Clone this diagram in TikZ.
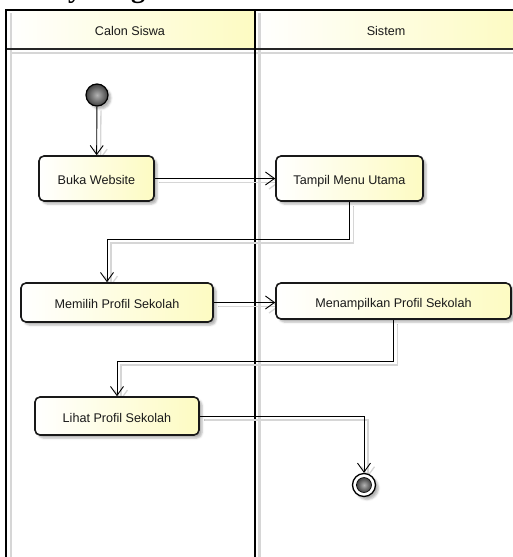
\documentclass[tikz,border=0pt]{standalone}
\usepackage{fontspec}
\setmainfont{Liberation Serif}
\setsansfont{Liberation Sans}
\usetikzlibrary{arrows.meta,shadows.blur,calc}
\definecolor{ylw}{RGB}{253,251,194}
\definecolor{shd}{RGB}{214,214,214}
\definecolor{ink}{RGB}{25,25,25}
\pgfdeclarelayer{lanes}
\pgfdeclarelayer{bg}
\pgfsetlayers{lanes,bg,main}
\newcommand\umlflows[1]{%
  \draw[#1] (init) -- (buka);
  \draw[#1] (buka) -- (tampil);
  \draw[#1] (tampil.south) -- (tampil.south |- k1) -| ([xshift=-10pt]memilih.north);
  \draw[#1] (memilih.east) -- (memilih.east -| menampilkan.west);
  \draw[#1] (menampilkan.south) -- (menampilkan.south |- k2) -| (lihat.north);
  \draw[#1] (lihat.east) -| (final.north);
}
\begin{document}
\begin{tikzpicture}[x=1pt,y=-1pt,
  act/.style={draw=ink, line width=1.6pt, rounded corners=5pt, left color=white, right color=ylw,
    font=\sffamily\fontsize{12.6}{15}\selectfont, text=ink, inner sep=0pt, text height=12pt, text depth=0pt,
    blur shadow={shadow xshift=3pt,shadow yshift=-3pt,shadow blur radius=2pt,shadow opacity=30}},
  lanehead/.style={font=\sffamily\fontsize{12.6}{15}\selectfont, text=ink, inner sep=0pt},
  flow/.style={draw=black, line width=0.9pt, -{Straight Barb[length=9pt,width=13pt,line width=0.9pt]}},
  flowshd/.style={draw=shd, line width=1.3pt, -{Straight Barb[length=9pt,width=13pt,line width=1.3pt]}},
  laneline/.style={draw=black, line width=2pt},
  laneshd/.style={draw=shd, line width=2.5pt}
]
\useasboundingbox (0,0) rectangle (513,557);

% title (cut off at top)
\node[anchor=base west, font=\bfseries\fontsize{28}{30}\selectfont, inner sep=0pt] (title) at (-13,-3) {Activity Diagram};

% nodes
\node[circle, draw=black, line width=1.2pt, inner color=gray!60, outer color=black!75, minimum size=22pt, inner sep=0pt,
  blur shadow={shadow xshift=3pt,shadow yshift=-3pt,shadow blur radius=2pt,shadow opacity=30}] (init) at (97,95) {};
\node[act, minimum width=115pt, minimum height=45pt] (buka) at (96.5,178.5) {Buka Website};
\node[act, minimum width=147pt, minimum height=45pt] (tampil) at (349.5,178.5) {Tampil Menu Utama};
\node[act, minimum width=192pt, minimum height=39pt] (memilih) at (117,302.5) {Memilih Profil Sekolah};
\node[act, minimum width=235pt, minimum height=36pt] (menampilkan) at (393.5,301) {Menampilkan Profil Sekolah};
\node[act, minimum width=164pt, minimum height=38pt] (lihat) at (117,416) {Lihat Profil Sekolah};
\node[circle, draw=black, line width=1.3pt, fill=white, minimum size=23pt, inner sep=0pt,
  blur shadow={shadow xshift=3pt,shadow yshift=-3pt,shadow blur radius=2pt,shadow opacity=30}] (final) at (364,485) {};
\node[circle, draw=black, line width=0.6pt, inner color=gray!60, outer color=black!75, minimum size=15pt, inner sep=0pt] (finalcore) at (final.center) {};

\coordinate (k1) at (349,239);
\coordinate (k2) at (393,361);

% connectors
\umlflows{flow}
\begin{pgfonlayer}{bg}
  \begin{scope}[transform canvas={xshift=4pt,yshift=-4pt}]
    \umlflows{flowshd}
  \end{scope}
\end{pgfonlayer}

% swimlanes
\begin{pgfonlayer}{lanes}
  \shade[left color=white, right color=ylw] (6,10) rectangle (254,48);
  \shade[left color=white, right color=ylw] (255,10) rectangle (520,48);
  \draw[laneshd] (11,13) -- (11,560);
  \draw[laneshd] (259.5,13) -- (259.5,560);
  \draw[laneshd] (11,53) -- (520,53);
  \draw[laneline] (5,9.5) -- (520,9.5);
  \draw[laneline, draw=black!85] (5,48.8) -- (520,48.8);
  \draw[laneline] (5.5,9) -- (5.5,560);
  \draw[laneline] (254.5,9) -- (254.5,560);
  \node[lanehead] (h1) at (130,31) {Calon Siswa};
  \node[lanehead] (h2) at (386,31) {Sistem};
\end{pgfonlayer}
\end{tikzpicture}
\end{document}
